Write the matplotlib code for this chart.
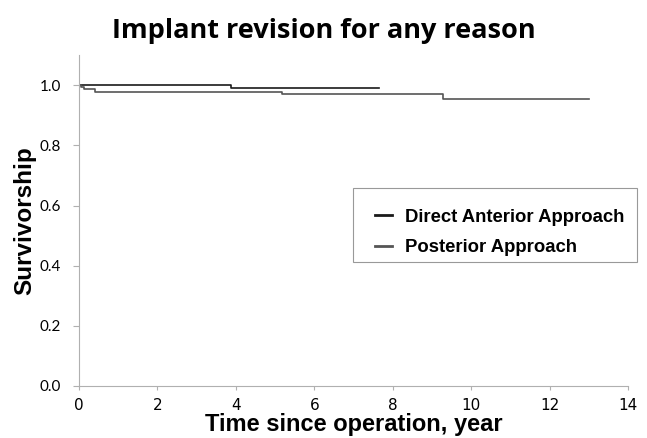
import matplotlib.pyplot as plt
import matplotlib.patches as patches

# Kaplan-Meier step data
daa_t = [0, 3.88, 7.65]
daa_s = [1.0, 0.992, 0.992]

pa_t = [0, 0.05, 0.12, 0.42, 5.18, 9.29, 13.0]
pa_s = [1.0, 0.993, 0.986, 0.978, 0.971, 0.955, 0.955]

xticks = [0, 2, 4, 6, 8, 10, 12, 14]
yticks = [0.0, 0.2, 0.4, 0.6, 0.8, 1.0]

fig = plt.figure(figsize=(6.47, 4.38), dpi=100)
ax = fig.add_axes([0.122, 0.119, 0.849, 0.755])

ax.step(daa_t, daa_s, where="post", color="#1a1a1a", lw=1.2, label="Direct Anterior Approach")
ax.step(pa_t, pa_s, where="post", color="#555555", lw=1.2, label="Posterior Approach")

ax.set_xlim(0, 14)
ax.set_ylim(0, 1.1)
ax.set_xticks(xticks)
ax.set_xticklabels([str(v) for v in xticks], family="Liberation Sans Narrow", fontsize=11)
ax.set_yticks(yticks)
ax.set_yticklabels([f"{v:.1f}" for v in yticks], family="Lato", fontsize=11)

for s in ["top", "right"]:
    ax.spines[s].set_visible(False)
for s in ["left", "bottom"]:
    ax.spines[s].set_color("#b0b0b0")
    ax.spines[s].set_linewidth(0.8)
ax.tick_params(colors="#b0b0b0", labelcolor="black", length=4, width=0.8)
ax.tick_params(axis="y", pad=9)
ax.tick_params(axis="x", length=3, pad=6)

ax.set_xlabel("Time since operation, year", fontsize=17, fontweight="bold",
              family="Liberation Sans", labelpad=0)
ax.set_ylabel("Survivorship", fontsize=17.5, fontweight="bold",
              family="Liberation Sans", labelpad=2)

fig.text(0.5, 0.93, "Implant revision for any reason", ha="center", va="center",
         fontsize=19.5, fontweight="bold", family="Open Sans")

# Legend entries without frame, box drawn separately
leg = ax.legend(loc="upper left", bbox_to_anchor=(0.539, 0.536), frameon=False,
                handlelength=0.9, handletextpad=0.75, borderpad=0, borderaxespad=0,
                labelspacing=0.75, prop={"family": "Liberation Sans", "weight": "bold", "size": 13.3})
for line in leg.get_lines():
    line.set_linewidth(2)

ax.add_patch(patches.Rectangle((0.499, 0.374), 0.517, 0.224, transform=ax.transAxes,
                               fill=False, edgecolor="#999999", lw=0.8, clip_on=False))

fig.savefig("out.png", dpi=100)
